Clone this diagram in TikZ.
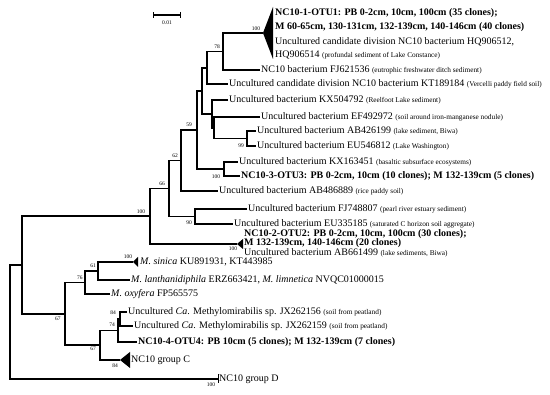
\documentclass[tikz,border=0pt]{standalone}
\usepackage{fontspec}
\setmainfont{Liberation Serif}
\usepackage{tikz}
\usetikzlibrary{arrows.meta}
\newcommand{\hab}[1]{{\fontsize{7.3}{8}\selectfont #1}}

\begin{document}
\begin{tikzpicture}[x=1pt,y=-1pt,
    br/.style={line width=1.8pt},
    lf/.style={anchor=west,inner sep=1pt,font=\fontsize{10}{11}\selectfont},
    bs/.style={inner sep=0pt,font=\fontsize{5.5}{6}\selectfont}]
    \useasboundingbox (0,0) rectangle (550,395);

    \coordinate (sbL) at (153,15);
    \coordinate (sbR) at (181,15);
    \draw[line width=1.4pt,{Bar[width=6pt]}-{Bar[width=6pt]}] (sbL) -- (sbR);
    \node[bs] (sc) at (167,23) {0.01};

    \coordinate (root) at (10,322);
    \coordinate (n22) at (22,265);
    \coordinate (n150) at (150,216.25);
    \coordinate (n169) at (169,188.5);
    \coordinate (n181) at (181,160.5);
    \coordinate (n197) at (197,129.9);
    \coordinate (n202) at (202,90.8);
    \coordinate (n207) at (207,67.75);
    \coordinate (n223) at (223,51.5);
    \coordinate (n212) at (212,113.9);
    \coordinate (n214) at (214,127.75);
    \coordinate (n247) at (247,138.5);
    \coordinate (n224) at (224,169);
    \coordinate (n195) at (195,216.5);
    \coordinate (n65) at (65,313.9);
    \coordinate (n85) at (85,282.5);
    \coordinate (n98) at (98,271);
    \coordinate (n100) at (100,345.25);
    \coordinate (n118) at (118,330.5);
    \coordinate (n120) at (120,319);

    \coordinate (otu1) at (263,33);
    \coordinate (otu2) at (237,244);
    \coordinate (sinc) at (133,262);
    \coordinate (grpc) at (120,360);
    \fill (otu1) -- ++(10,-26) -- ++(0,52) -- cycle;
    \fill (otu2) -- ++(6,-5) -- ++(0,10) -- cycle;
    \fill (sinc) -- ++(5,-5) -- ++(0,10) -- cycle;
    \fill (grpc) -- ++(10,-8) -- ++(0,16) -- cycle;

    \node[lf] (t1a) at (274,13) {\textbf{NC10-1-OTU1: PB 0-2cm, 10cm, 100cm (35 clones);}};
    \node[lf] (t1b) at (274,27) {\textbf{M 60-65cm, 130-131cm, 132-139cm, 140-146cm (40 clones)}};
    \node[lf] (t1c) at (274,42) {Uncultured candidate division NC10 bacterium HQ906512,};
    \node[lf] (t1d) at (274,55) {HQ906514 \hab{(profundal sediment of Lake Constance)}};
    \node[lf] (fj6) at (260,70) {NC10 bacterium FJ621536 \hab{(eutrophic freshwater ditch sediment)}};
    \node[lf] (kt1) at (228,84) {Uncultured candidate division NC10 bacterium KT189184 \hab{(Vercelli paddy field soil)}};
    \node[lf] (kx5) at (228,100) {Uncultured bacterium KX504792 \hab{(Reelfoot Lake sediment)}};
    \node[lf] (ef4) at (260,117) {Uncultured bacterium EF492972 \hab{(soil around iron-manganese nodule)}};
    \node[lf] (ab4) at (256,131) {Uncultured bacterium AB426199 \hab{(lake sediment, Biwa)}};
    \node[lf] (eu5) at (256,146) {Uncultured bacterium EU546812 \hab{(Lake Washington)}};
    \node[lf] (kx1) at (238,162) {Uncultured bacterium KX163451 \hab{(basaltic subsurface ecosystems)}};
    \node[lf] (otu3) at (240,176) {\textbf{NC10-3-OTU3: PB 0-2cm, 10cm (10 clones); M 132-139cm (5 clones)}};
    \node[lf] (ab48) at (218,191) {Uncultured bacterium AB486889 \hab{(rice paddy soil)}};
    \node[lf] (fj7) at (247,209) {Uncultured bacterium FJ748807 \hab{(pearl river estuary sediment)}};
    \node[lf] (eu3) at (233,224) {Uncultured bacterium EU335185 \hab{(saturated C horizon soil aggregate)}};
    \node[lf] (t2a) at (243,234.5) {\textbf{NC10-2-OTU2: PB 0-2cm, 10cm, 100cm (30 clones);}};
    \node[lf] (t2b) at (243,243.5) {\textbf{M 132-139cm, 140-146cm (20 clones)}};
    \node[lf] (t2c) at (243,252.5) {Uncultured bacterium AB661499 \hab{(lake sediments, Biwa)}};
    \node[lf] (sin) at (139,262) {\textit{M. sinica} KU891931, KT443985};
    \node[lf] (lan) at (130,280) {\textit{M. lanthanidiphila} ERZ663421, \textit{M. limnetica} NVQC01000015};
    \node[lf] (oxy) at (110,294) {\textit{M. oxyfera} FP565575};
    \node[lf] (jx6) at (127,312) {Uncultured \textit{Ca}. Methylomirabilis sp. JX262156 \hab{(soil from peatland)}};
    \node[lf] (jx9) at (133,326) {Uncultured \textit{Ca}. Methylomirabilis sp. JX262159 \hab{(soil from peatland)}};
    \node[lf] (otu4) at (137,342) {\textbf{NC10-4-OTU4: PB 10cm (5 clones); M 132-139cm (7 clones)}};
    \node[lf] (grC) at (130,360) {NC10 group C};
    \node[lf] (grD) at (218,379) {NC10 group D};

    \draw[br] (otu1) -| (n223) |- (fj6.west);
    \draw[br] (n223) -| (n207) |- (kt1.west);
    \draw[br] (kx5.west) -| (n212) |- (n214);
    \draw[br] (ef4.west) -| (n214) |- (n247);
    \draw[br] (ab4.west) -| (n247) |- (eu5.west);
    \draw[br] (n207) -| (n202) |- (n212);
    \draw[br] (kx1.west) -| (n224) |- (otu3.west);
    \draw[br] (n202) -| (n197) |- (n224);
    \draw[br] (n197) -| (n181) |- (ab48.west);
    \draw[br] (fj7.west) -| (n195) |- (eu3.west);
    \draw[br] (n181) -| (n169) |- (n195);
    \draw[br] (n169) -| (n150) |- (otu2);
    \draw[br] (sinc) -| (n98) |- (lan.west);
    \draw[br] (n98) -| (n85) |- (oxy.west);
    \draw[br] (jx6.west) -| (n120) |- (jx9.west);
    \draw[br] (n120) -| (n118) |- (otu4.west);
    \draw[br] (n118) -| (n100) |- (grpc);
    \draw[br] (n85) -| (n65) |- (n100);
    \draw[br] (n150) -| (n22) |- (n65);
    \draw[br] (n22) -| (root) |- (grD.west);
    \draw[line width=1pt] (grD.west) ++(0,-4.5) -- ++(0,9);

    \node[bs] (b223) at (256,29) {100};
    \node[bs] (b22x) at (217,47) {78};
    \node[bs] (b197) at (189,125) {59};
    \node[bs] (b181) at (175,156) {62};
    \node[bs] (b169) at (162,184) {66};
    \node[bs] (b150) at (141,212) {100};
    \node[bs] (b247) at (241,146) {99};
    \node[bs] (b224) at (216,177) {100};
    \node[bs] (b195) at (189,223) {90};
    \node[bs] (bot2) at (233,249) {100};
    \node[bs] (bsin) at (128,257) {100};
    \node[bs] (b98) at (93,266) {61};
    \node[bs] (b85) at (80,278) {76};
    \node[bs] (b120) at (113,313) {84};
    \node[bs] (b118) at (112,325) {74};
    \node[bs] (b65) at (58,319) {67};
    \node[bs] (b100) at (93,349) {67};
    \node[bs] (bgc) at (115,366) {84};
    \node[bs] (bgd) at (211,385) {100};
\end{tikzpicture}
\end{document}
